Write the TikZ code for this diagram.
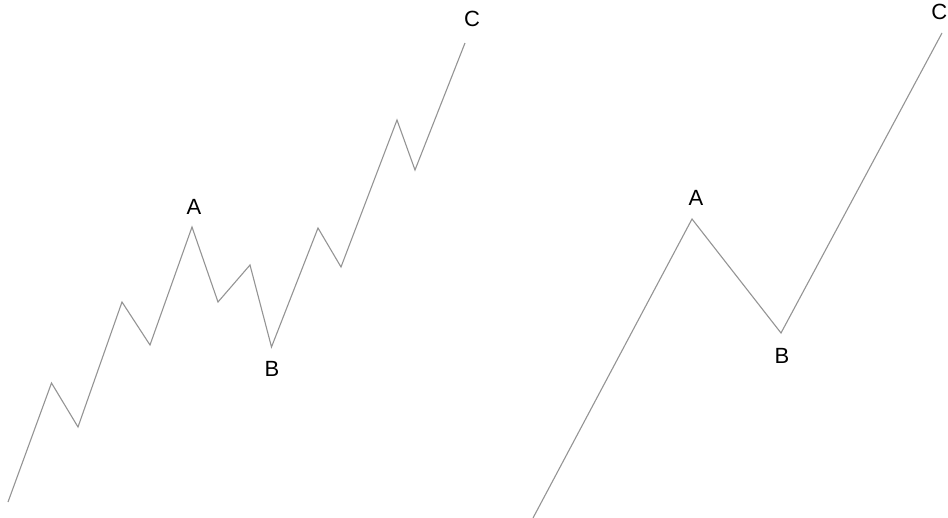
\documentclass[tikz,border=0pt]{standalone}
\usepackage{fontspec}
\setmainfont{Liberation Sans}
\begin{document}
\begin{tikzpicture}[x=1pt,y=-1pt,
  wave/.style={draw=black!42,line width=1.1pt,line join=miter},
  lbl/.style={font=\fontsize{22}{24}\selectfont,text=black,inner sep=0pt}]
\useasboundingbox[fill=white] (0,0) rectangle (948,517);
% left chart
\coordinate (l0) at (8,502);
\coordinate (l1) at (51.5,383);
\coordinate (l2) at (78,427);
\coordinate (l3) at (122,302);
\coordinate (l4) at (150,345);
\coordinate (lA) at (192,227);
\coordinate (l6) at (218,302);
\coordinate (l7) at (250,265);
\coordinate (lB) at (271.5,347);
\coordinate (l9) at (318,228);
\coordinate (l10) at (341,267);
\coordinate (l11) at (397,120);
\coordinate (l12) at (415,170);
\coordinate (lC) at (465,43);
\draw[wave] (l0) -- (l1) -- (l2) -- (l3) -- (l4) -- (lA) -- (l6) -- (l7) -- (lB) -- (l9) -- (l10) -- (l11) -- (l12) -- (lC);
\node[lbl] (tA) at (194,207) {A};
\node[lbl] (tB) at (272,369) {B};
\node[lbl] (tC) at (472,19) {C};
% right chart
\coordinate (r0) at (533,518);
\coordinate (rA) at (692,219);
\coordinate (rB) at (781,333);
\coordinate (rC) at (942,33);
\draw[wave] (r0) -- (rA) -- (rB) -- (rC);
\node[lbl] (uA) at (696,198) {A};
\node[lbl] (uB) at (782,356) {B};
\node[lbl,anchor=east] (uC) at (947.5,12) {C};
\end{tikzpicture}
\end{document}
